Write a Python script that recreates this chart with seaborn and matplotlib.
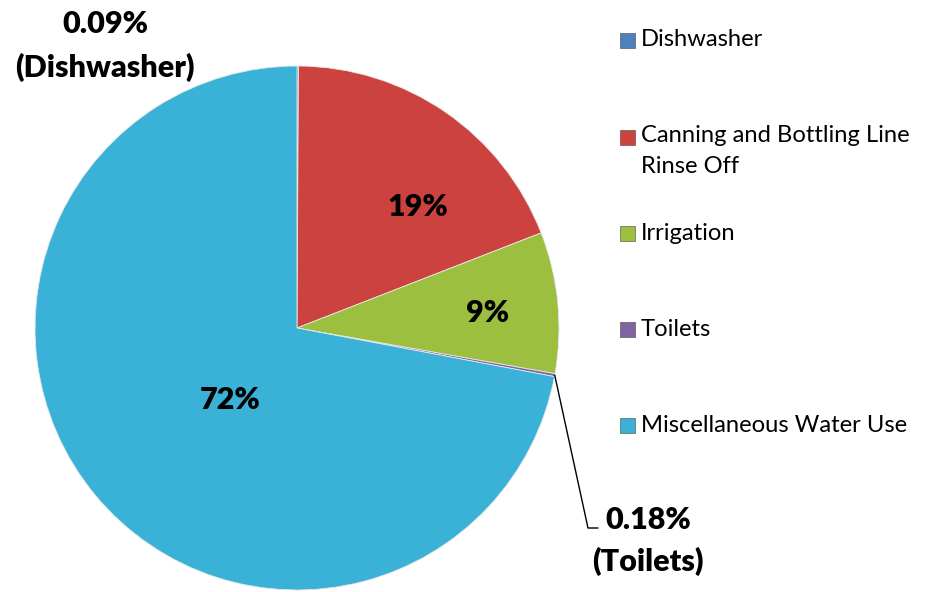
import numpy as np
import matplotlib
matplotlib.use("Agg")
import matplotlib.pyplot as plt
from matplotlib.patches import Rectangle
import seaborn as sns

categories = ["Dishwasher", "Canning and Bottling Line\nRinse Off", "Irrigation",
              "Toilets", "Miscellaneous Water Use"]
values = [0.09, 19.0, 8.7, 0.18, 72.03]
pct_labels = ["0.09%\n(Dishwasher)", "19%", "9%", "0.18%\n(Toilets)", "72%"]
colors = ["#4F81BD", "#CB423F", "#9CBF3F", "#8064A2", "#3AB2D8"]

sns.set_theme(style="white")
plt.rcParams['font.family'] = ['Lato', 'DejaVu Sans']
plt.rcParams['text.color'] = 'black'

W, H = 931, 592
fig = plt.figure(figsize=(W / 100, H / 100), dpi=100)
cx, cy, R = 297, 328, 262
ax = fig.add_axes([(cx - R) / W, (H - cy - R) / H, 2 * R / W, 2 * R / H])

wedges, _ = ax.pie(values, colors=colors, startangle=90, counterclock=False,
                   radius=1.0, wedgeprops=dict(edgecolor="#E8E8E8", linewidth=0.6))
ax.set_xlim(-1, 1)
ax.set_ylim(-1, 1)
ax.set_aspect("equal")
ax.axis("off")

def px2data(px, py):
    return (px - cx) / R, (cy - py) / R

BOLD = "heavy"

# percentage labels inside slices
inside = {1: (418, 207), 2: (488, 313), 4: (230, 400)}
for i, (px, py) in inside.items():
    x, y = px2data(px, py)
    ax.text(x, y, pct_labels[i], ha="center", va="center", fontsize=22,
            fontweight=BOLD, color="black")

# outside labels
fig.text(105 / W, 1 - 46 / H, pct_labels[0], ha="center", va="center",
         fontsize=22, fontweight=BOLD, linespacing=1.6, color="black")
fig.text(648 / W, 1 - 541 / H, pct_labels[3], ha="center", va="center",
         fontsize=22, fontweight=BOLD, linespacing=1.55, color="black")

# leader line for Toilets
w = wedges[3]
ang = np.deg2rad((w.theta1 + w.theta2) / 2)
x0, y0 = np.cos(ang), np.sin(ang)
x1, y1 = px2data(588, 528)
x2, y2 = px2data(598, 528)
ax.plot([x0, x1, x2], [y0, y1, y2], color="black", lw=1.0, clip_on=False)

# legend (manual, Excel-like layout)
leg_y = [40, 137, 233, 329, 425]
for cat, col, yy in zip(categories, colors, leg_y):
    fig.patches.append(Rectangle((620 / W, 1 - (yy + 8) / H), 15 / W, 15 / H,
                                 transform=fig.transFigure, facecolor=col,
                                 edgecolor="#444444", linewidth=0.4))
    if "\n" in cat:
        fig.text(641 / W, 1 - (yy - 12) / H, cat, ha="left", va="top",
                 fontsize=17.1, linespacing=1.6, color="black")
    else:
        fig.text(641 / W, 1 - yy / H, cat, ha="left", va="center",
                 fontsize=17.1, color="black")

fig.savefig("out.png", dpi=100)
